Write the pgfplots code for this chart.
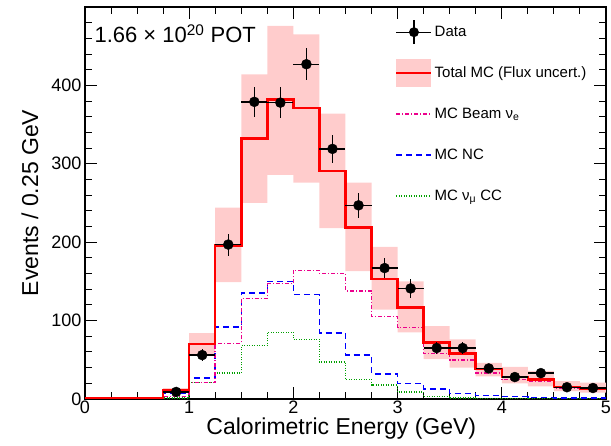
\documentclass[border=0pt]{standalone}
\usepackage{fontspec}
\setmainfont{Liberation Sans}
\usepackage{pgfplots}
\pgfplotsset{compat=1.18}
\usepackage{pgfplotstable}
\usepgfplotslibrary{fillbetween}

\definecolor{bandpink}{RGB}{255,204,204}
\definecolor{mcgreen}{RGB}{0,160,0}

\pgfplotstableread{
x    mc    up    lo    nue   nc    numu
0    1.5   1.5   1.5   0     0     0
0.25 1.5   1.5   1.5   0     0     0
0.5  1.5   1.5   1.5   0     0     0
0.75 11    14    8     3     7     1
1.0  70    84    56    21    27    21
1.25 196   244   149   71    92    33
1.5  332   414   250   128   135   68
1.75 382   476   286   147   150   85
2.0  371   465   276   164   133   76
2.25 291   364   218   160   84    47
2.5  219   276   163   138   56    25
2.75 153   194   114   105   32    18
3.0  117   150   85    91    20    9
3.25 72    93    51    58    13    3
3.5  58    76    40    50    7     1
3.75 38    46    29    33    4.5   0.5
4.0  28    41    20    25    3     0.5
4.25 25    36    16    22    2     0.3
4.5  15.5  22.7  10    14    1.5   0.2
4.75 13    21    8     12    1.2   0.2
5.0  13    21    8     12    1.2   0.2
}\hist

\pgfplotstableread{
x     y    ex     ey
0.875 9    0.125  3.0
1.125 56   0.125  7.5
1.375 197  0.125  14.0
1.625 379  0.125  19.5
1.875 378  0.125  19.4
2.125 427  0.125  20.7
2.375 319  0.125  17.9
2.625 247  0.125  15.7
2.875 167  0.125  12.9
3.125 141  0.125  11.9
3.375 65   0.125  8.1
3.625 65   0.125  8.1
3.875 39   0.125  6.2
4.125 28   0.125  5.3
4.375 33   0.125  5.7
4.625 15   0.125  3.9
4.875 14   0.125  3.7
}\data

\begin{document}
\begin{tikzpicture}
\begin{axis}[
  at={(0,0)}, anchor=south west,
  scale only axis, width=521pt, height=392pt,
  xmin=0, xmax=5, ymin=0, ymax=500,
  xtick={0,1,2,3,4,5}, ytick={0,100,200,300,400},
  minor xtick={0.25,0.5,0.75,1.25,1.5,1.75,2.25,2.5,2.75,3.25,3.5,3.75,4.25,4.5,4.75},
  minor ytick={20,40,60,80,120,140,160,180,220,240,260,280,320,340,360,380,420,440,460,480},
  tick align=inside, xtick pos=both, ytick pos=both,
  xticklabel pos=left, yticklabel pos=left,
  major tick length=12pt, minor tick length=7pt,
  every tick/.style={black, line width=1pt},
  axis line style={line width=1.5pt},
  ticklabel style={font=\fontsize{18}{20}\selectfont},
  xticklabel style={yshift=1.5pt},
  /pgf/number format/assume math mode=true,
  xlabel={Calorimetric Energy (GeV)},
  ylabel={Events / 0.25 GeV},
  every axis x label/.style={at={(axis description cs:0.492,0)}, yshift=-36pt, anchor=base, font=\fontsize{23}{26}\selectfont},
  every axis y label/.style={at={(axis description cs:0,0.5)}, xshift=-55pt, rotate=90, anchor=center, font=\fontsize{23}{26}\selectfont},
  legend style={at={(axis description cs:0.595,1)}, anchor=north west, yshift=-11pt,
    draw=none, fill=none, inner sep=0pt, row sep=13pt,
    font=\fontsize{15}{17}\selectfont},
  legend cell align=left,
]
\addlegendimage{black, solid, draw=none, fill=none, no marks, legend image code/.code={
  \path[draw=none, fill=none] (0pt,-14pt) rectangle (35pt,14pt);
  \draw[black, solid, line width=1.3pt] (0pt,0pt) -- (35pt,0pt);
  \draw[black, solid, line width=1.3pt] (17.5pt,-12pt) -- (17.5pt,12pt);
  \fill[black] (17.5pt,0pt) circle (5pt);}}
\addlegendentry{Data}
\addlegendimage{black, solid, draw=none, fill=none, no marks, legend image code/.code={
  \fill[bandpink, draw=none] (0pt,-14pt) rectangle (35pt,14pt);
  \draw[red, solid, line width=2.5pt] (0pt,0pt) -- (35pt,0pt);}}
\addlegendentry{Total MC (Flux uncert.)}
\addlegendimage{black, solid, draw=none, fill=none, no marks, legend image code/.code={
  \path[draw=none, fill=none] (0pt,-14pt) rectangle (35pt,14pt);
  \draw[magenta, line width=1.5pt, dash pattern=on 4pt off 2pt on 1pt off 2pt] (0pt,0pt) -- (35pt,0pt);}}
\addlegendentry{MC Beam ν\textsubscript{e}}
\addlegendimage{black, solid, draw=none, fill=none, no marks, legend image code/.code={
  \path[draw=none, fill=none] (0pt,-14pt) rectangle (35pt,14pt);
  \draw[blue, line width=1.5pt, dash pattern=on 6pt off 4pt] (0pt,0pt) -- (35pt,0pt);}}
\addlegendentry{MC NC}
\addlegendimage{black, solid, draw=none, fill=none, no marks, legend image code/.code={
  \path[draw=none, fill=none] (0pt,-14pt) rectangle (35pt,14pt);
  \draw[mcgreen, line width=1.5pt, dash pattern=on 1pt off 1.5pt] (0pt,0pt) -- (35pt,0pt);}}
\addlegendentry{MC ν\textsubscript{μ} CC}

\addplot[name path=up, draw=none, const plot mark left, no marks, forget plot] table[x=x,y=up]{\hist};
\addplot[name path=lo, draw=none, const plot mark left, no marks, forget plot] table[x=x,y=lo]{\hist};
\addplot[bandpink, forget plot] fill between[of=up and lo];

\addplot[mcgreen, line width=1.5pt, dash pattern=on 1pt off 1.5pt, const plot mark left, no marks, forget plot] table[x=x,y=numu]{\hist};
\addplot[blue, line width=1.5pt, dash pattern=on 6pt off 4pt, const plot mark left, no marks, forget plot] table[x=x,y=nc]{\hist};
\addplot[magenta, line width=1.5pt, dash pattern=on 4pt off 2pt on 1pt off 2pt, const plot mark left, no marks, forget plot] table[x=x,y=nue]{\hist};
\addplot[red, line width=2.5pt, const plot mark left, no marks, forget plot] table[x=x,y=mc]{\hist};

\addplot[black, only marks, mark=*, mark size=5pt, forget plot,
  error bars/.cd, x dir=both, x explicit, y dir=both, y explicit,
  error mark=none, error bar style={line width=1.3pt, black}]
  table[x=x, y=y, x error=ex, y error=ey]{\data};

\node[anchor=base west, xshift=6pt, yshift=-36pt, font=\fontsize{22}{24}\selectfont]
  at (axis description cs:0,1) {1.66 × 10\textsuperscript{20} POT};
\end{axis}
\pgfresetboundingbox
\path[use as bounding box] (-85pt,-47pt) rectangle (526pt,399pt);
\end{tikzpicture}
\end{document}
